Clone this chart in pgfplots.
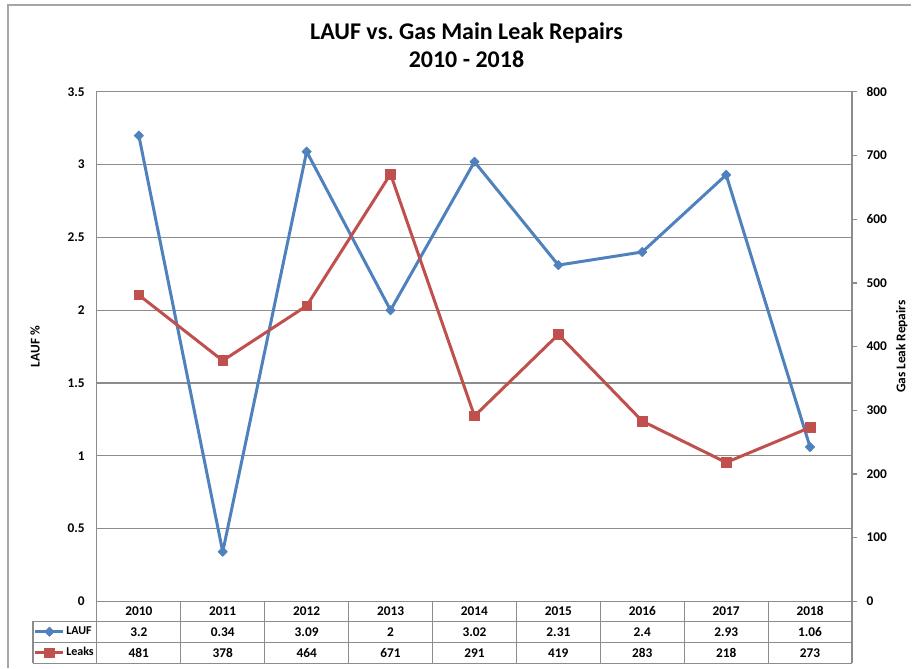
\documentclass[border=0pt]{standalone}
\usepackage{fontspec}
\setmainfont{Carlito}
\usepackage{pgfplots}
\pgfplotsset{compat=1.18}

\definecolor{laufblue}{HTML}{4F81BD}
\definecolor{leakred}{HTML}{C0504D}
\definecolor{framegray}{HTML}{A6A6A6}
\definecolor{axisgray}{HTML}{8C8C8C}

% 1 px of the reference = 0.75pt; plot area from x=97..853, y=92..602 px
\pgfplotsset{
  chartbase/.style={
    scale only axis, width=567pt, height=382.5pt,
    at={(72.75pt,50.25pt)}, anchor=south west,
    xmin=-0.5, xmax=8.5,
    /pgf/number format/assume math mode=true,
    tick label style={font=\bfseries},
    label style={font=\bfseries},
    clip=false,
  }
}

\begin{document}
\frenchspacing
\begin{tikzpicture}
\begin{scope}[x=0.75pt,y=0.75pt]
\useasboundingbox (0,0) rectangle (912,669);
% chart frame, cut off at the right and bottom
\draw[framegray, line width=1.5pt] (8,0) -- (8,664) -- (912,664);
\node[font=\fontsize{18}{22}\selectfont\bfseries, anchor=base] at (467,629) {LAUF vs.\ Gas Main Leak Repairs};
\node[font=\fontsize{18}{22}\selectfont\bfseries, anchor=base] at (467,601) {2010 - 2018};
\end{scope}

% left axis: LAUF
\begin{axis}[chartbase,
  ymin=0, ymax=3.5, ytick distance=0.5,
  xtick={0,...,8},
  xticklabels={2010,2011,2012,2013,2014,2015,2016,2017,2018},
  xticklabel style={anchor=center, yshift=-7.5pt},
  major tick length=0pt,
  ymajorgrids, grid style={axisgray, line width=0.9pt},
  axis line style={axisgray, line width=0.9pt},
  yticklabel style={xshift=-5.7pt},
  ylabel={LAUF \%},
  ylabel style={at={(axis description cs:-0.082,0.5)}, anchor=center},
  legend style={at={(axis description cs:-0.0833,-0.0392)}, anchor=north west,
    draw=none, fill=none, inner sep=0pt, outer sep=0pt, row sep=0pt,
    font=\fontsize{9}{11}\selectfont\bfseries,
    nodes={inner sep=1pt, minimum height=15.75pt}},
  legend cell align=left,
  legend image code/.code={\draw[mark repeat=2, mark phase=2]
    plot coordinates {(0pt,0pt) (10.5pt,0pt) (21pt,0pt)};},
]
\addplot[laufblue, line width=2.25pt, line join=round,
  mark=diamond*, mark size=3.5pt, mark options={solid, line width=0.5pt, xscale=1.33}]
  coordinates {(0,3.2) (1,0.34) (2,3.09) (3,2) (4,3.02) (5,2.31) (6,2.4) (7,2.93) (8,1.06)};
\addlegendentry{LAUF}
\addlegendimage{leakred, line width=2.25pt, mark=square*, mark size=3.6pt, mark options={solid, line width=0.5pt}}
\addlegendentry{Leaks}
\end{axis}

% right axis: leak repairs
\begin{axis}[chartbase,
  ymin=0, ymax=800, ytick distance=100,
  axis x line=none, axis y line*=right,
  axis line style={axisgray, line width=0.9pt, -},
  tick style={axisgray, line width=0.9pt},
  tick align=outside, major tick length=4pt,
  yticklabel style={xshift=3.5pt},
  ylabel={Gas Leak Repairs},
  ylabel style={at={(axis description cs:1.066,0.5)}, anchor=center},
]
\addplot[leakred, line width=2.25pt, line join=round,
  mark=square*, mark size=3.6pt, mark options={solid, line width=0.5pt}]
  coordinates {(0,481) (1,378) (2,464) (3,671) (4,291) (5,419) (6,283) (7,218) (8,273)};
\end{axis}

% data table under the plot
\begin{scope}[x=0.75pt,y=0.75pt]
\begin{scope}[axisgray, line width=0.9pt]
\foreach \y in {47,26,5} \draw (33,\y) -- (853,\y);
\draw (33,47) -- (33,5);
\foreach \k in {0,...,9} \draw (97+84*\k,67) -- (97+84*\k,5);
\end{scope}
\foreach \v [count=\i from 0] in {3.2,0.34,3.09,2,3.02,2.31,2.4,2.93,1.06}
  \node[font=\bfseries] at (139+84*\i,36.5) {\v};
\foreach \v [count=\i from 0] in {481,378,464,671,291,419,283,218,273}
  \node[font=\bfseries] at (139+84*\i,15.5) {\v};
\end{scope}
\end{tikzpicture}
\end{document}
